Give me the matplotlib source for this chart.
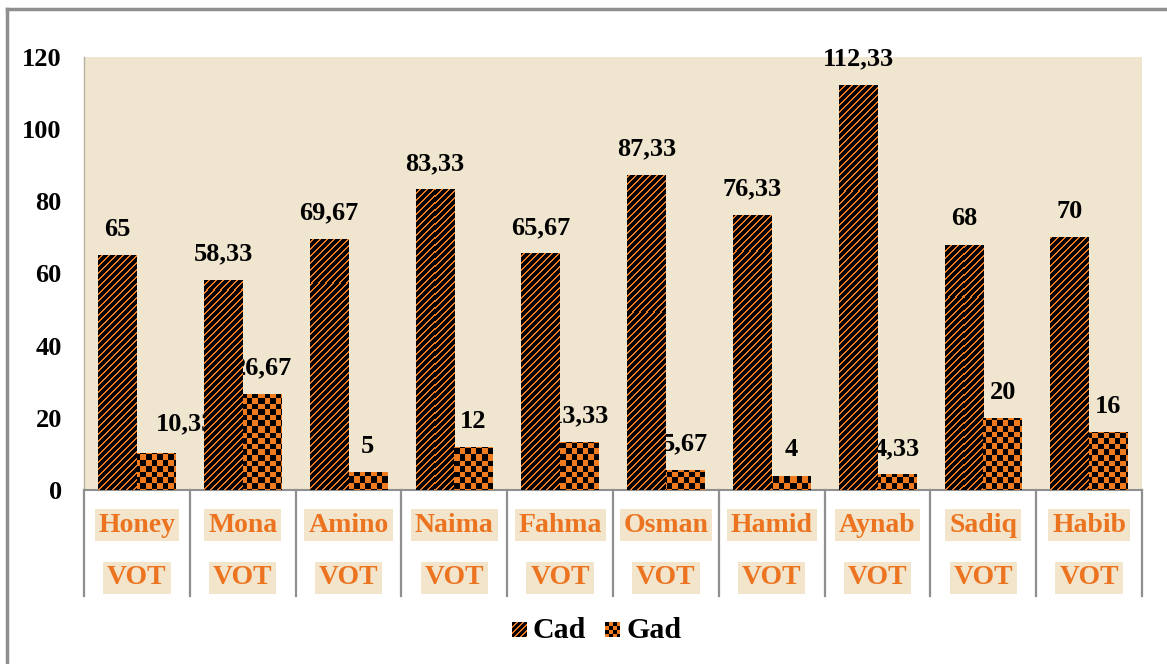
import numpy as np
import matplotlib
matplotlib.use("Agg")
import matplotlib.pyplot as plt
from matplotlib.lines import Line2D
import matplotlib.transforms as mtransforms

# ---- data ----
speakers = ["Honey", "Mona", "Amino", "Naima", "Fahma",
            "Osman", "Hamid", "Aynab", "Sadiq", "Habib"]
measure = "VOT"
cad = [65, 58.33, 69.67, 83.33, 65.67, 87.33, 76.33, 112.33, 68, 70]
gad = [10.33, 26.67, 5, 12, 13.33, 5.67, 4, 4.33, 20, 16]
series_names = ["Cad", "Gad"]
y_ticks = [0, 20, 40, 60, 80, 100, 120]

# ---- style ----
ORANGE = np.array([240, 122, 30]) / 255.0
BLACK = np.array([0, 0, 0]) / 255.0
PLOT_BG = "#F0E6CF"
LABEL_BG = "#F2E5CB"
LABEL_FG = "#EC7420"
GRID_GRAY = "#8F8F8F"
SERIF = ["Liberation Serif", "DejaVu Serif"]

W_PX, H_PX = 1167, 664
DPI = 100
fig = plt.figure(figsize=(W_PX / DPI, H_PX / DPI), dpi=DPI)
fig.patch.set_facecolor("white")

ax_left, ax_right, ax_top, ax_bottom = 84, 1142, 57, 490
ax = fig.add_axes([ax_left / W_PX, (H_PX - ax_bottom) / H_PX,
                   (ax_right - ax_left) / W_PX, (ax_bottom - ax_top) / H_PX])
ax.set_facecolor(PLOT_BG)

n = len(speakers)
x = np.arange(n)
bw = 0.365
ax.set_xlim(-0.5, n - 0.5)
ax.set_ylim(0, 120)


def stripe_pattern(h, w, period=7.0, dark=0.64):
    r, c = np.mgrid[0:h, 0:w]
    phase = ((c + r) % period) / period
    mask = phase < dark
    img = np.empty((h, w, 3))
    img[:] = ORANGE
    img[mask] = BLACK
    return img


def checker_pattern(h, w, cell=5.6):
    r, c = np.mgrid[0:h, 0:w]
    mask = ((np.floor(r / cell) + np.floor(c / cell)) % 2) == 0
    img = np.empty((h, w, 3))
    img[:] = ORANGE
    img[mask] = BLACK
    return img


pw, ph = ax_right - ax_left, ax_bottom - ax_top
stripes = stripe_pattern(ph, pw)
checks = checker_pattern(ph, pw)
extent = (-0.5, n - 0.5, 0, 120)

bars_cad = ax.bar(x - bw / 2, cad, width=bw, color=ORANGE, linewidth=0, zorder=3)
bars_gad = ax.bar(x + bw / 2, gad, width=bw, color=ORANGE, linewidth=0, zorder=3)

for bar in bars_cad:
    im = ax.imshow(stripes, extent=extent, aspect="auto", interpolation="nearest",
                   origin="upper", zorder=3.5)
    im.set_clip_path(bar)
for bar in bars_gad:
    im = ax.imshow(checks, extent=extent, aspect="auto", interpolation="nearest",
                   origin="upper", zorder=3.5)
    im.set_clip_path(bar)
ax.set_xlim(-0.5, n - 0.5)
ax.set_ylim(0, 120)


def fmt(v):
    return f"{v:g}".replace(".", ",")


# horizontal nudge (points) for a value label that sits off its bar
label_nudge = {("Gad", 0): 21}

for name, bars, vals in (("Cad", bars_cad, cad), ("Gad", bars_gad, gad)):
    for i, (bar, v) in enumerate(zip(bars, vals)):
        dx = label_nudge.get((name, i), 0)
        dy = 20.5 if dx else 18.5
        ax.annotate(fmt(v), (bar.get_x() + bar.get_width() / 2, v),
                    xytext=(dx, dy), textcoords="offset points",
                    ha="center", va="center", fontsize=19, fontweight="bold",
                    family=SERIF, color="black", zorder=2, annotation_clip=False)

# axes styling
ax.set_yticks(y_ticks)
ax.set_yticklabels([str(t) for t in y_ticks], fontsize=19, fontweight="bold",
                   family=SERIF)
ax.tick_params(axis="y", length=0, pad=16)
ax.set_xticks([])
for side in ("top", "right"):
    ax.spines[side].set_visible(False)
ax.spines["left"].set_color("#B8B0A0")
ax.spines["left"].set_linewidth(1.0)
ax.spines["bottom"].set_color(GRID_GRAY)
ax.spines["bottom"].set_linewidth(1.5)

# category table below the axis
trans = mtransforms.blended_transform_factory(ax.transData, ax.transAxes)
sep_bottom = -(596 - ax_bottom) / ph
for b in np.arange(-0.5, n, 1.0):
    ax.add_line(Line2D([b, b], [0, sep_bottom], transform=trans, color=GRID_GRAY,
                       linewidth=1.6, clip_on=False))

row1 = -(525 - ax_bottom) / ph
row2 = -(578 - ax_bottom) / ph
for xi, name in zip(x, speakers):
    for yy, txt in ((row1, name), (row2, measure)):
        ax.text(xi, yy, txt, transform=trans, ha="center", va="center",
                fontsize=20, fontweight="bold", family=SERIF, color=LABEL_FG,
                clip_on=False,
                bbox=dict(boxstyle="square,pad=0.14", facecolor=LABEL_BG,
                          edgecolor="none"))

# legend
sw = 15
leg_y = H_PX - 637
leg_items = [(512, stripe_pattern(sw, sw, period=6.0), series_names[0], 533),
             (605, checker_pattern(sw, sw, cell=3.75), series_names[1], 626)]
for x0, patch, label, tx in leg_items:
    fig.figimage(patch, xo=x0, yo=leg_y, zorder=5)
    fig.text(tx / W_PX, 1 - 630 / H_PX, label, ha="left", va="center",
             fontsize=21.5, fontweight="bold", family=SERIF, color="black")

# outer frame
fig.add_artist(Line2D([6.5 / W_PX, 1.0], [1 - 9 / H_PX, 1 - 9 / H_PX],
                      transform=fig.transFigure, color=GRID_GRAY, linewidth=2.5))
fig.add_artist(Line2D([6.5 / W_PX, 6.5 / W_PX], [0.0, 1 - 9 / H_PX],
                      transform=fig.transFigure, color=GRID_GRAY, linewidth=2.5))

fig.savefig("out.png", dpi=DPI, facecolor="white")
